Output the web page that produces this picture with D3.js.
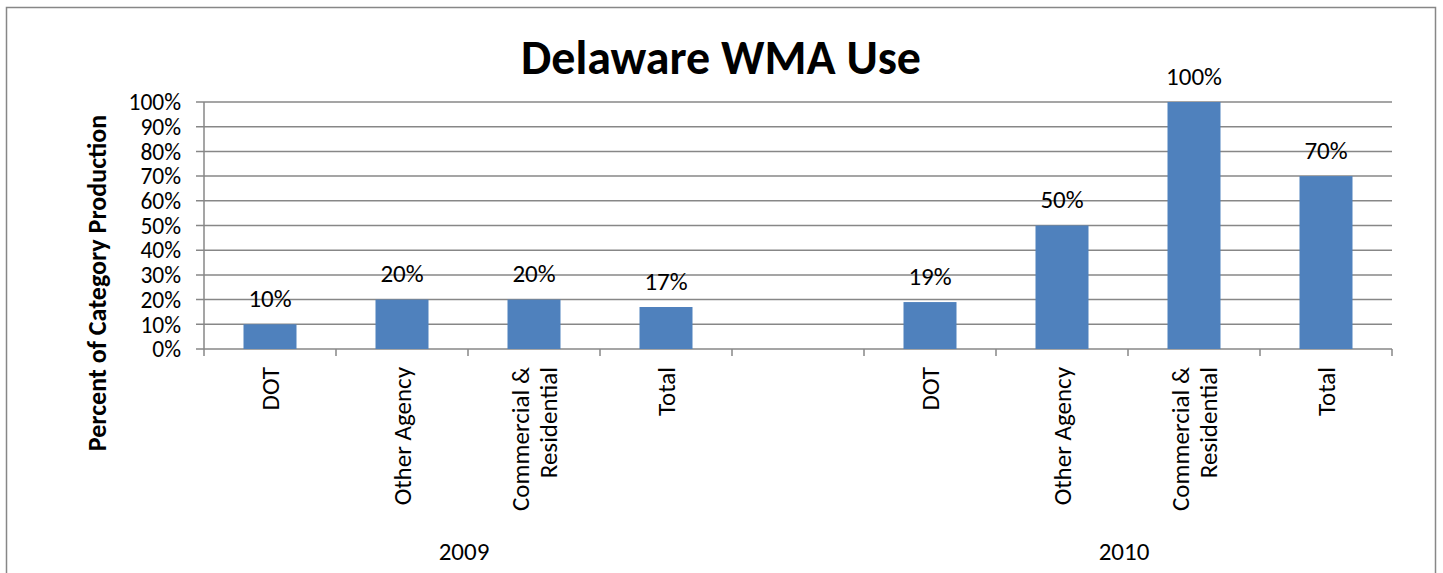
<!DOCTYPE html>
<html>
<head>
<meta charset="utf-8">
<script src="https://cdn.jsdelivr.net/npm/d3@7"></script>
<style>
  body { margin: 0; background: #fff; }
  text { font-family: Carlito, Lato, "Open Sans", sans-serif; fill: #000; }
</style>
</head>
<body>
<script>
// data
const years = ["2009", "2010"]
const categories = ["DOT", "Other Agency", "Commercial & Residential", "Total"]
const values2009 = [0.10, 0.20, 0.20, 0.17]
const values2010 = [0.19, 0.50, 1.00, 0.70]
const yTicks = [0, 0.1, 0.2, 0.3, 0.4, 0.5, 0.6, 0.7, 0.8, 0.9, 1.0]

// slots: 4 for 2009, one empty gap, 4 for 2010
const rows = []
categories.forEach((c, i) => rows.push({ key: "2009-" + i, cat: c, year: "2009", v: values2009[i] }))
rows.push({ key: "gap", cat: "", year: "", v: null })
categories.forEach((c, i) => rows.push({ key: "2010-" + i, cat: c, year: "2010", v: values2010[i] }))

const W = 1443, H = 573
const margin = { top: 102, right: 51, bottom: 224, left: 204 }
const width = W - margin.left - margin.right
const height = H - margin.top - margin.bottom
const fs = "25px"

const svg = d3.select("body").append("svg")
    .attr("width", W)
    .attr("height", H)

// outer border
svg.append("rect")
    .attr("x", 6.5).attr("y", 7.5)
    .attr("width", 1429).attr("height", 580)
    .attr("fill", "none")
    .attr("stroke", "#878787")
    .attr("stroke-width", 1.5)

svg.append("text")
    .attr("x", 721).attr("y", 74)
    .attr("text-anchor", "middle")
    .style("font-size", "48px")
    .style("font-weight", "bold")
    .text("Delaware WMA Use")

const g = svg.append("g")
    .attr("transform", "translate(" + margin.left + "," + margin.top + ")")

const xs = d3.scaleBand().domain(rows.map(d => d.key)).range([0, width])

const y = d3.scaleLinear().domain([0, 1]).range([height, 0])

// gridlines
g.selectAll(".grid")
    .data(yTicks)
    .enter().append("line")
        .attr("x1", -8).attr("x2", width)
        .attr("y1", d => y(d)).attr("y2", d => y(d))
        .attr("stroke", "#878787")
        .attr("stroke-width", 1.5)

// y axis line
g.append("line")
    .attr("x1", 0).attr("x2", 0)
    .attr("y1", 0).attr("y2", height)
    .attr("stroke", "#878787")
    .attr("stroke-width", 1.5)

g.selectAll(".ylab")
    .data(yTicks)
    .enter().append("text")
        .attr("x", -23)
        .attr("y", d => y(d))
        .attr("dy", "0.35em")
        .attr("text-anchor", "end")
        .style("font-size", "23.5px")
        .text(d => d3.format(".0%")(d))

// x ticks at slot boundaries
const bounds = d3.range(rows.length + 1).map(i => i * xs.step())
g.selectAll(".xtick")
    .data(bounds)
    .enter().append("line")
        .attr("x1", d => d).attr("x2", d => d)
        .attr("y1", height).attr("y2", height + 7)
        .attr("stroke", "#878787")
        .attr("stroke-width", 1.5)

const barRows = rows.filter(d => d.v !== null)

g.selectAll(".bar")
    .data(barRows)
    .enter().append("rect")
        .attr("x", d => xs(d.key) + xs.bandwidth() / 2 - 26.5)
        .attr("width", 53)
        .attr("y", d => y(d.v))
        .attr("height", d => height - y(d.v))
        .attr("fill", "#4f81bd")

g.selectAll(".val")
    .data(barRows)
    .enter().append("text")
        .attr("x", d => xs(d.key) + xs.bandwidth() / 2)
        .attr("y", d => y(d.v) - 26)
        .attr("dy", "0.35em")
        .attr("text-anchor", "middle")
        .style("font-size", fs)
        .text(d => d3.format(".0%")(d.v))

// category labels, rotated
const catLabels = g.selectAll(".cat")
    .data(barRows)
    .enter().append("text")
        .attr("transform", d => "translate(" + (xs(d.key) + xs.bandwidth() / 2) + "," + (height + 18) + ") rotate(-90)")
        .attr("text-anchor", "end")
        .style("font-size", fs)

catLabels.each(function(d) {
    const lines = d.cat === "Commercial & Residential" ? ["Commercial &", "Residential"] : [d.cat]
    const t = d3.select(this)
    lines.forEach((l, i) => {
        t.append("tspan")
            .attr("x", 0)
            .attr("dy", i === 0 ? (lines.length === 1 ? "0.35em" : "-0.22em") : "1.15em")
            .text(l)
    })
})

// year labels
years.forEach((yr, i) => {
    const keys = rows.filter(d => d.year === yr).map(d => d.key)
    const cx = (xs(keys[0]) + xs(keys[keys.length - 1]) + xs.bandwidth()) / 2
    g.append("text")
        .attr("x", cx - 4)
        .attr("y", 449)
        .attr("dy", "0.35em")
        .attr("text-anchor", "middle")
        .style("font-size", fs)
        .text(yr)
})

// y axis title
svg.append("text")
    .attr("transform", "translate(97,283) rotate(-90)")
    .attr("text-anchor", "middle")
    .attr("dy", "0.35em")
    .style("font-size", "26px")
    .style("font-weight", "bold")
    .text("Percent of Category Production")
</script>
</body>
</html>
